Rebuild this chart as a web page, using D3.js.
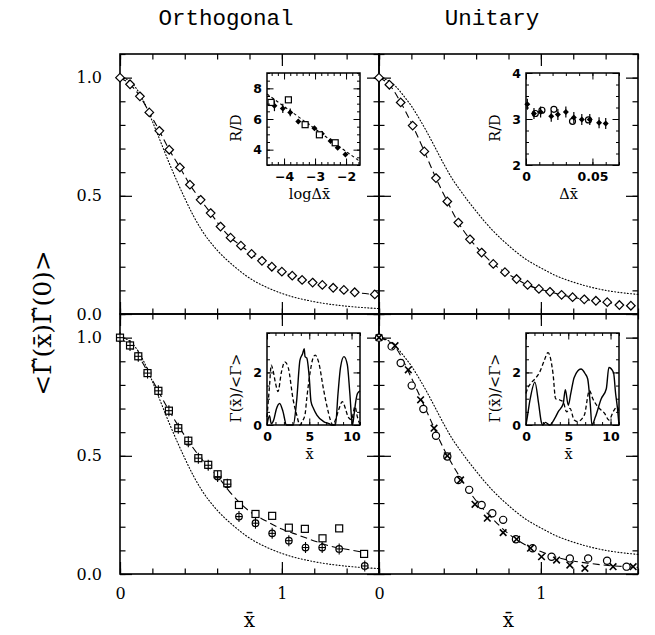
<!DOCTYPE html>
<html><head><meta charset="utf-8">
<script src="https://cdn.jsdelivr.net/npm/d3@7"></script>
<style>body{margin:0;background:#fff} svg{display:block}</style>
</head><body>
<svg id="c" width="655" height="635"></svg>
<script>
// ---------------- DATA ----------------
const panelTitles = ["Orthogonal", "Unitary"];
const mainYTicks = [0, 0.5, 1.0];
const mainXTicks = [0, 1];

// Top-left (orthogonal) diamonds
const orthTopX = [0, 0.062, 0.123, 0.181, 0.243, 0.304, 0.370, 0.432, 0.498, 0.560, 0.621, 0.683, 0.747, 0.813, 0.877, 0.938, 1.0, 1.064, 1.125, 1.19, 1.25, 1.317, 1.383, 1.45, 1.574];
const orthTopY = [1.0, 0.972, 0.921, 0.853, 0.775, 0.695, 0.620, 0.547, 0.483, 0.427, 0.370, 0.323, 0.289, 0.254, 0.225, 0.200, 0.179, 0.162, 0.144, 0.133, 0.123, 0.111, 0.102, 0.092, 0.083];
// Top-right (unitary) diamonds
const uniTopX = [0, 0.064, 0.134, 0.208, 0.280, 0.352, 0.422, 0.490, 0.562, 0.634, 0.706, 0.778, 0.850, 0.918, 0.988, 1.056, 1.128, 1.196, 1.268, 1.34, 1.41, 1.485, 1.556];
const uniTopY = [1.0, 0.970, 0.895, 0.797, 0.688, 0.575, 0.476, 0.387, 0.316, 0.260, 0.212, 0.177, 0.148, 0.123, 0.106, 0.094, 0.081, 0.071, 0.062, 0.056, 0.050, 0.038, 0.035];
// Theory (dotted) curves
const orthTheoryX = [0, 0.05, 0.1, 0.15, 0.2, 0.25, 0.3, 0.35, 0.4, 0.45, 0.5, 0.6, 0.7, 0.8, 0.9, 1.0, 1.2, 1.4, 1.6];
const orthTheoryY = [1.0, 0.99, 0.955, 0.895, 0.815, 0.73, 0.645, 0.565, 0.49, 0.42, 0.36, 0.27, 0.205, 0.152, 0.115, 0.087, 0.052, 0.033, 0.023];
const uniTheoryX = [0, 0.05, 0.1, 0.15, 0.2, 0.25, 0.3, 0.35, 0.4, 0.45, 0.5, 0.6, 0.7, 0.8, 0.9, 1.0, 1.1, 1.2, 1.3, 1.4, 1.5, 1.6];
const uniTheoryY = [1.0, 0.99, 0.965, 0.925, 0.88, 0.825, 0.765, 0.70, 0.635, 0.575, 0.525, 0.435, 0.355, 0.29, 0.235, 0.195, 0.16, 0.135, 0.115, 0.10, 0.09, 0.083];
// Bottom-left (orthogonal) squares and crossed circles
const orthSqX = [0, 0.062, 0.113, 0.17, 0.237, 0.302, 0.36, 0.422, 0.484, 0.545, 0.603, 0.663, 0.735, 0.837, 0.94, 1.043, 1.142, 1.251, 1.354, 1.508];
const orthSqY = [1.0, 0.967, 0.921, 0.85, 0.775, 0.691, 0.617, 0.564, 0.490, 0.462, 0.422, 0.384, 0.292, 0.254, 0.246, 0.196, 0.191, 0.151, 0.193, 0.085];
const orthCpX = [0, 0.062, 0.113, 0.17, 0.237, 0.302, 0.36, 0.422, 0.484, 0.545, 0.603, 0.663, 0.735, 0.837, 0.94, 1.043, 1.146, 1.249, 1.354, 1.512];
const orthCpY = [1.0, 0.967, 0.921, 0.85, 0.775, 0.691, 0.617, 0.56, 0.49, 0.46, 0.412, 0.38, 0.243, 0.215, 0.172, 0.141, 0.112, 0.112, 0.106, 0.034];
const orthFitX = [0, 0.1, 0.2, 0.3, 0.4, 0.5, 0.6, 0.7, 0.8, 0.9, 1.0, 1.1, 1.2, 1.3, 1.4, 1.52];
const orthFitY = [1.0, 0.935, 0.82, 0.695, 0.585, 0.49, 0.415, 0.33, 0.265, 0.225, 0.19, 0.165, 0.14, 0.118, 0.105, 0.09];
// Bottom-right (unitary) circles and crosses
const uniCiX = [0, 0.078, 0.134, 0.202, 0.274, 0.352, 0.422, 0.49, 0.557, 0.634, 0.70, 0.767, 0.846, 0.949, 1.066, 1.179, 1.292, 1.409, 1.529];
const uniCiY = [1.0, 0.963, 0.893, 0.797, 0.698, 0.585, 0.497, 0.398, 0.356, 0.292, 0.257, 0.229, 0.147, 0.109, 0.073, 0.066, 0.066, 0.056, 0.031];
const uniXxX = [0, 0.099, 0.181, 0.257, 0.34, 0.422, 0.504, 0.593, 0.669, 0.767, 0.85, 0.936, 1.004, 1.097, 1.179, 1.272, 1.446, 1.57];
const uniXxY = [1.0, 0.966, 0.864, 0.737, 0.617, 0.50, 0.398, 0.295, 0.236, 0.175, 0.147, 0.109, 0.073, 0.059, 0.038, 0.024, 0.031, 0.031];
const uniFitX = [0, 0.1, 0.2, 0.3, 0.4, 0.5, 0.6, 0.7, 0.8, 0.9, 1.0, 1.1, 1.2, 1.3, 1.4, 1.5, 1.6];
const uniFitY = [1.0, 0.96, 0.83, 0.68, 0.53, 0.41, 0.31, 0.235, 0.17, 0.125, 0.095, 0.07, 0.055, 0.045, 0.037, 0.032, 0.028];

// Inset TL: R/D vs log Δx
const insTLsqX = [-4.42, -3.86, -3.32, -2.86, -2.35];
const insTLsqY = [7.08, 7.25, 5.63, 4.97, 4.45];
const insTLdX = [-4.31, -4.04, -3.8, -3.54, -3.27, -3.02, -2.78, -2.5, -2.27, -2.02];
const insTLdY = [6.86, 6.69, 6.43, 5.83, 5.68, 5.4, 5.03, 4.56, 4.13, 3.68];
const insTLdErr = [0.35, 0.3, 0.25, 0.15, 0.12, 0.1, 0.1, 0.1, 0.1, 0.1];
const insTLfitX = [-4.55, -1.6];
const insTLfitY = [7.63, 3.3];
// Inset TR: R/D vs Δx
const insTRdX = [0.001, 0.006, 0.011, 0.019, 0.024, 0.030, 0.036, 0.042, 0.048, 0.055, 0.060];
const insTRdY = [3.32, 3.12, 3.15, 3.06, 3.1, 3.15, 3.03, 2.99, 2.99, 2.92, 2.9];
const insTRcX = [0.007, 0.012, 0.021, 0.035, 0.047];
const insTRcY = [3.12, 3.19, 3.21, 2.95, 2.98];
// Inset BL: Γ(x)/<Γ> vs x
const insBLsolidX = [0, 0.3, 0.5, 0.8, 1.1, 1.5, 1.9, 2.3, 3.1, 3.5, 3.9, 4.2, 4.4, 4.5, 4.7, 5.0, 5.2, 5.5, 5.9, 6.7, 7.4, 7.6, 8.1, 8.4, 8.7, 9.1, 9.5, 9.8, 10.1, 10.3, 10.5, 10.7, 11];
const insBLsolidY = [0, 0.35, 0.05, 0.2, 0.6, 0.82, 0.5, 0, 0, 0.9, 2.47, 2.7, 2.9, 2.6, 2.55, 1.8, 0.9, 0.63, 0.38, 0.13, 0.04, 0, 0, 1.2, 2.2, 2.6, 2.3, 1.2, 0, 0.4, 0.9, 1.2, 1.3];
const insBLdashX = [0, 0.3, 0.5, 0.7, 1.0, 1.3, 1.7, 2.1, 2.5, 3.1, 3.5, 3.9, 4.2, 4.5, 4.7, 5.1, 5.4, 5.7, 6.1, 6.7, 7.1, 7.5, 7.8, 8.1, 8.5, 8.9, 9.3, 9.6, 10.0, 10.4, 10.7, 11];
const insBLdashY = [0.3, 1.5, 2.28, 2.1, 1.6, 1.27, 2.0, 2.4, 2.2, 0.95, 0.4, 0, 0.15, 0.4, 1.0, 2.0, 2.5, 2.66, 2.4, 1.33, 0.7, 0.19, 0, 0.2, 0.6, 0.89, 0.6, 0.3, 0.2, 0.7, 0.3, 0];
// Inset BR
const insBRsolidX = [0, 0.1, 0.5, 1.05, 1.5, 1.8, 2.0, 2.3, 2.8, 3.4, 3.8, 4.4, 4.65, 5.0, 5.3, 5.7, 6.5, 7.0, 7.3, 7.6, 7.8, 8.2, 8.9, 9.5, 9.8, 10.35, 10.6, 10.8, 11];
const insBRsolidY = [0, 0.19, 1.0, 1.63, 0.8, 0.13, 0, 0.1, 0, 0.25, 0.5, 0.81, 1.34, 0.75, 1.2, 1.81, 2.13, 1.95, 1.75, 0.8, 0, 0.3, 1.0, 1.38, 2.19, 2.0, 1.2, 0.69, 0];
const insBRdashX = [0, 0.1, 0.5, 1.05, 1.6, 2.1, 2.6, 3.2, 3.5, 4.0, 4.4, 4.8, 5.2, 5.7, 6.1, 6.9, 7.5, 7.9, 8.5, 9.3, 9.8, 10.4, 10.8, 11];
const insBRdashY = [1.2, 1.31, 1.56, 1.75, 2.0, 2.4, 2.75, 1.94, 1.0, 0.95, 0.88, 0.5, 0.63, 0.19, 0.13, 0.38, 1.31, 1.0, 0.69, 0.44, 0.19, 0.56, 0.69, 0.5];

// ---------------- DRAWING ----------------
const zip = (xs, ys) => xs.map((x, i) => ({x, y: ys[i]}));
const svg = d3.select("#c");
const PW = 259, PH = 260;
const colX = [120, 379], rowY = [54, 314];

function ticksIn(g, x, y, xVals, yVals, len, w) {
  const [x0, x1] = x.range(), [y1, y0] = y.range();
  const mk = (axis, tr) => {
    const a = g.append("g").attr("transform", tr).call(axis);
    a.select(".domain").remove();
    a.selectAll("line").attr("stroke", "#000").attr("stroke-width", w);
    a.selectAll("text").remove();
  };
  mk(d3.axisBottom(x).tickValues(xVals).tickSize(-len), `translate(0,${y1})`);
  mk(d3.axisTop(x).tickValues(xVals).tickSize(-len), `translate(0,${y0})`);
  mk(d3.axisLeft(y).tickValues(yVals).tickSize(-len), `translate(${x0},0)`);
  mk(d3.axisRight(y).tickValues(yVals).tickSize(-len), `translate(${x1},0)`);
}
const rng = (a, b, s) => d3.range(Math.round(a / s), Math.round(b / s) + 1).map(i => +(i * s).toFixed(6));

const diamondPath = "M0,-4.3L4.3,0L0,4.3L-4.3,0Z";

function mainPanel(c, r) {
  const x = d3.scaleLinear().domain([0, 1.6]).range([colX[c], colX[c] + PW]);
  const y = d3.scaleLinear().domain([0, 1.1]).range([rowY[r] + PH, rowY[r]]);
  const g = svg.append("g");
  ticksIn(g, x, y, rng(0, 1.6, 0.2), rng(0, 1.1, 0.1), 5.5, 1.2);
  ticksIn(g, x, y, mainXTicks, mainYTicks, 12, 1.2);
  g.append("rect").attr("x", colX[c]).attr("y", rowY[r]).attr("width", PW).attr("height", PH)
    .attr("fill", "none").attr("stroke", "#000").attr("stroke-width", 1.6);
  if (c === 0) {
    const a = g.append("g").attr("transform", `translate(${colX[0]},0)`)
      .call(d3.axisLeft(y).tickValues(mainYTicks).tickFormat(d3.format(".1f")).tickSize(0).tickPadding(18));
    a.select(".domain").remove();
    a.selectAll("text").attr("font-family", "DejaVu Serif").attr("font-size", 16).attr("fill", "#000");
  }
  if (r === 1) {
    const a = g.append("g").attr("transform", `translate(0,${rowY[1] + PH})`)
      .call(d3.axisBottom(x).tickValues(mainXTicks).tickFormat(d3.format("d")).tickSize(0).tickPadding(14));
    a.select(".domain").remove();
    a.selectAll("text").attr("font-family", "DejaVu Serif").attr("font-size", 16).attr("fill", "#000");
  }
  return {g, x, y};
}

function drawLine(g, x, y, data, dash, w, curve) {
  g.append("path").datum(data)
    .attr("d", d3.line().x(d => x(d.x)).y(d => y(d.y)).curve(curve || d3.curveMonotoneX))
    .attr("fill", "none").attr("stroke", "#000").attr("stroke-width", w)
    .attr("stroke-dasharray", dash).attr("stroke-linecap", dash === "1,2.2" ? "round" : "butt");
}
function diamonds(g, x, y, data) {
  g.selectAll(null).data(data).join("path")
    .attr("d", diamondPath).attr("transform", d => `translate(${x(d.x)},${y(d.y)})`)
    .attr("fill", "#fff").attr("stroke", "#000").attr("stroke-width", 1.2);
}
function squares(g, x, y, data, s) {
  g.selectAll(null).data(data).join("rect")
    .attr("x", d => x(d.x) - s / 2).attr("y", d => y(d.y) - s / 2).attr("width", s).attr("height", s)
    .attr("fill", "#fff").attr("stroke", "#000").attr("stroke-width", 1.2);
}
function circles(g, x, y, data, rr, fill) {
  g.selectAll(null).data(data).join("circle")
    .attr("cx", d => x(d.x)).attr("cy", d => y(d.y)).attr("r", rr)
    .attr("fill", fill).attr("stroke", "#000").attr("stroke-width", 1.2);
}
function pluses(g, x, y, data, hw, hh) {
  const s = g.selectAll(null).data(data).join("g").attr("transform", d => `translate(${x(d.x)},${y(d.y)})`);
  s.append("line").attr("x1", -hw).attr("x2", hw).attr("stroke", "#000").attr("stroke-width", 1.1);
  s.append("line").attr("y1", -hh).attr("y2", hh).attr("stroke", "#000").attr("stroke-width", 1.1);
}
function crosses(g, x, y, data, h) {
  const s = g.selectAll(null).data(data).join("g").attr("transform", d => `translate(${x(d.x)},${y(d.y)})`);
  s.append("line").attr("x1", -h).attr("y1", -h).attr("x2", h).attr("y2", h).attr("stroke", "#000").attr("stroke-width", 1.6);
  s.append("line").attr("x1", -h).attr("y1", h).attr("x2", h).attr("y2", -h).attr("stroke", "#000").attr("stroke-width", 1.6);
}

// Panels
const TL = mainPanel(0, 0), TR = mainPanel(1, 0), BL = mainPanel(0, 1), BR = mainPanel(1, 1);

// top-left
drawLine(TL.g, TL.x, TL.y, zip(orthTheoryX, orthTheoryY), "1,2.2", 1.1);
drawLine(TL.g, TL.x, TL.y, zip(orthTopX, orthTopY), "7,4", 1.1);
diamonds(TL.g, TL.x, TL.y, zip(orthTopX, orthTopY));
// top-right
drawLine(TR.g, TR.x, TR.y, zip(uniTheoryX, uniTheoryY), "1,2.2", 1.1);
drawLine(TR.g, TR.x, TR.y, zip(uniTopX, uniTopY), "7,4", 1.1);
diamonds(TR.g, TR.x, TR.y, zip(uniTopX, uniTopY));
// bottom-left
drawLine(BL.g, BL.x, BL.y, zip(orthTheoryX, orthTheoryY), "1,2.2", 1.1);
drawLine(BL.g, BL.x, BL.y, zip(orthFitX, orthFitY), "7,4", 1.1);
circles(BL.g, BL.x, BL.y, zip(orthCpX, orthCpY), 3.3, "#fff");
squares(BL.g, BL.x, BL.y, zip(orthSqX, orthSqY), 7);
pluses(BL.g, BL.x, BL.y, zip(orthCpX, orthCpY), 3.3, 5.5);
// bottom-right
drawLine(BR.g, BR.x, BR.y, zip(uniTheoryX, uniTheoryY), "1,2.2", 1.1);
drawLine(BR.g, BR.x, BR.y, zip(uniFitX, uniFitY), "7,4", 1.1);
circles(BR.g, BR.x, BR.y, zip(uniCiX, uniCiY), 3.6, "#fff");
crosses(BR.g, BR.x, BR.y, zip(uniXxX, uniXxY), 3.3);

// Insets
const IW = 93, IH = 92, IOX = 147, IOY = 19;
function inset(c, r, xd, yd, xMinor, yMinor, xMajor, yMajor) {
  const x0 = colX[c] + IOX, y0 = rowY[r] + IOY;
  const x = d3.scaleLinear().domain(xd).range([x0, x0 + IW]);
  const y = d3.scaleLinear().domain(yd).range([y0 + IH, y0]);
  const g = svg.append("g");
  g.append("rect").attr("x", x0).attr("y", y0).attr("width", IW).attr("height", IH).attr("fill", "#fff");
  const cg = g.append("g");
  ticksIn(g, x, y, xMinor, yMinor, 3, 1);
  ticksIn(g, x, y, xMajor, yMajor, 6.5, 1);
  g.append("rect").attr("x", x0).attr("y", y0).attr("width", IW).attr("height", IH)
    .attr("fill", "none").attr("stroke", "#000").attr("stroke-width", 1.5);
  return {g, cg, x, y, x0, y0};
}
const numFont = t => t.attr("font-family", "DejaVu Sans").attr("font-weight", "bold").attr("font-size", 12.5).attr("fill", "#000");
const labFont = t => t.attr("font-family", "DejaVu Serif").attr("font-size", 14.5).attr("fill", "#000");
function insetLabels(ins, xVals, xFmt, yVals, yFmt, xLabel, yLabel) {
  const ax = ins.g.append("g").attr("transform", `translate(0,${ins.y0 + IH})`)
    .call(d3.axisBottom(ins.x).tickValues(xVals).tickFormat(xFmt).tickSize(0).tickPadding(7));
  ax.select(".domain").remove(); numFont(ax.selectAll("text"));
  const ay = ins.g.append("g").attr("transform", `translate(${ins.x0},0)`)
    .call(d3.axisLeft(ins.y).tickValues(yVals).tickFormat(yFmt).tickSize(0).tickPadding(5));
  ay.select(".domain").remove(); numFont(ay.selectAll("text"));
  labFont(ins.g.append("text").attr("x", ins.x0 + IW / 2 - 4).attr("y", ins.y0 + IH + 34).attr("text-anchor", "middle").text(xLabel));
  labFont(ins.g.append("text").attr("transform", `translate(${ins.x0 - 26},${ins.y0 + IH / 2 + 9}) rotate(-90)`).attr("text-anchor", "middle").text(yLabel));
}
const minusFmt = d => (d < 0 ? "\u2212" : "") + Math.abs(d);

// inset TL
const iTL = inset(0, 0, [-4.55, -1.55], [3, 9], rng(-4.4, -1.6, 0.2), rng(3, 9, 0.5), [-4, -3, -2], [4, 6, 8]);
drawLine(iTL.cg, iTL.x, iTL.y, zip(insTLfitX, insTLfitY), "3,2.5", 1.1, d3.curveLinear);
iTL.cg.selectAll(null).data(zip(insTLdX, insTLdY).map((d, i) => ({...d, e: insTLdErr[i]}))).join("line")
  .attr("x1", d => iTL.x(d.x)).attr("x2", d => iTL.x(d.x)).attr("y1", d => iTL.y(d.y - d.e)).attr("y2", d => iTL.y(d.y + d.e))
  .attr("stroke", "#000").attr("stroke-width", 1.2);
iTL.cg.selectAll(null).data(zip(insTLdX, insTLdY)).join("path")
  .attr("d", "M0,-3L3,0L0,3L-3,0Z").attr("transform", d => `translate(${iTL.x(d.x)},${iTL.y(d.y)})`).attr("fill", "#000");
squares(iTL.cg, iTL.x, iTL.y, zip(insTLsqX, insTLsqY), 6);
insetLabels(iTL, [-4, -3, -2], minusFmt, [4, 6, 8], d3.format("d"), "logΔx\u0304", "R/D");

// inset TR
const iTR = inset(1, 0, [0, 0.07], [2, 4], rng(0, 0.07, 0.01), rng(2, 4, 0.25), [0, 0.05], [2, 3, 4]);
iTR.cg.selectAll(null).data(zip(insTRdX, insTRdY)).join("line")
  .attr("x1", d => iTR.x(d.x)).attr("x2", d => iTR.x(d.x)).attr("y1", d => iTR.y(d.y - 0.12)).attr("y2", d => iTR.y(d.y + 0.12))
  .attr("stroke", "#000").attr("stroke-width", 1.2);
iTR.cg.selectAll(null).data(zip(insTRdX, insTRdY)).join("path")
  .attr("d", "M0,-3L3,0L0,3L-3,0Z").attr("transform", d => `translate(${iTR.x(d.x)},${iTR.y(d.y)})`).attr("fill", "#000");
circles(iTR.cg, iTR.x, iTR.y, zip(insTRcX, insTRcY), 3, "none");
insetLabels(iTR, [0, 0.05], d => d === 0 ? "0" : "0.05", [2, 3, 4], d3.format("d"), "Δx\u0304", "R/D");

// inset BL / BR
function gammaInset(c, r, sx, sy, dx, dy) {
  const ins = inset(c, r, [0, 11], [0, 3.5], rng(0, 11, 1), rng(0, 3.5, 0.5), [0, 5, 10], [0, 2]);
  drawLine(ins.cg, ins.x, ins.y, zip(sx, sy), null, 1.4);
  drawLine(ins.cg, ins.x, ins.y, zip(dx, dy), "4,2.5", 1.3);
  insetLabels(ins, [0, 5, 10], d3.format("d"), [0, 2], d3.format("d"), "x\u0304", "\u0393(x\u0304)/<\u0393>");
}
gammaInset(0, 1, insBLsolidX, insBLsolidY, insBLdashX, insBLdashY);
gammaInset(1, 1, insBRsolidX, insBRsolidY, insBRdashX, insBRdashY);

// Titles and axis titles
svg.selectAll(null).data(panelTitles).join("text")
  .attr("x", (d, i) => [226, 492][i]).attr("y", 25).attr("text-anchor", "middle")
  .attr("font-family", "Liberation Mono").attr("font-size", 22.5).attr("fill", "#000").text(d => d);
svg.append("text").attr("transform", "translate(51,323) rotate(-90)").attr("text-anchor", "middle")
  .attr("font-family", "DejaVu Serif").attr("font-size", 25).attr("fill", "#000")
  .text("<\u0393\u0303(x\u0304)\u0393\u0303(0)>");
svg.selectAll(null).data([0, 1]).join("text")
  .attr("x", c => colX[c] + PW / 2).attr("y", 627).attr("text-anchor", "middle")
  .attr("font-family", "DejaVu Serif").attr("font-size", 20).attr("fill", "#000").text("x\u0304");
</script></body></html>
